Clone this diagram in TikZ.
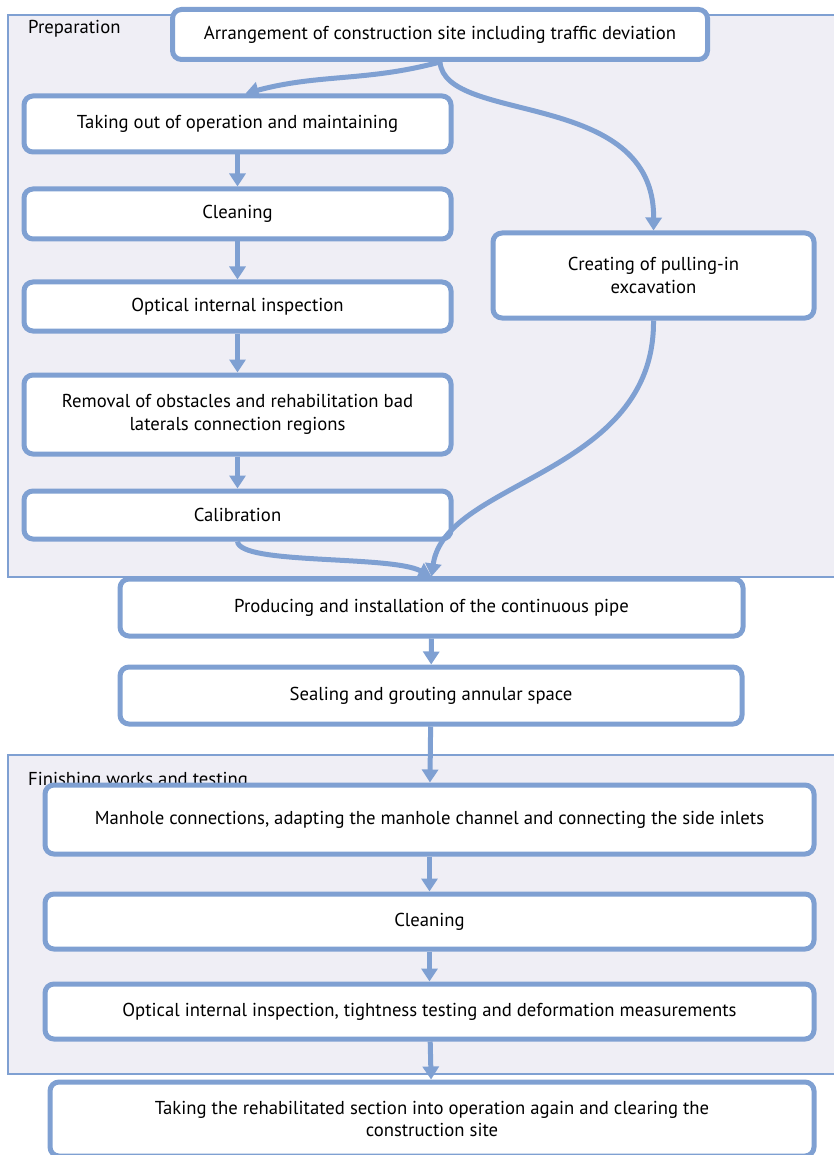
\documentclass[tikz,border=0pt]{standalone}
\usepackage{fontspec}
\setmainfont{PT Sans}
\usetikzlibrary{arrows.meta, positioning}
\definecolor{flowblue}{RGB}{127,160,210}
\definecolor{groupbg}{RGB}{239,238,245}

\begin{document}
\begin{tikzpicture}[x=1pt, y=-1pt, font=\fontsize{18.7}{22.5}\selectfont]
    \tikzstyle{stage} = [rectangle, rounded corners=9pt, draw=flowblue, line width=5pt, fill=white, align=center, inner sep=0pt]
    \tikzstyle{group} = [draw=flowblue, line width=2.5pt, fill=groupbg]
    \tikzstyle{flow} = [draw=flowblue, line width=5pt, -{Triangle[length=13pt, width=16pt]}]
    \useasboundingbox (0,0) rectangle (834,1155);
    % phase boxes
    \draw[group] (8,15) rectangle (845,577);
    \node[anchor=north west, inner sep=0pt] (prep) at (28,20) {Preparation};
    \draw[group] (8,755) rectangle (845,1074);
    \node[anchor=north west, inner sep=0pt] (finish) at (28,772) {Finishing works and testing};
    % steps
    \node[stage, minimum width=535pt, minimum height=50pt] (arrange) at (440,34.5) {Arrangement of construction site including traffic deviation};
    \node[stage, minimum width=427pt, minimum height=56pt] (takeout) at (237.5,124) {Taking out of operation and maintaining};
    \node[stage, minimum width=427pt, minimum height=50pt] (clean1) at (237.5,214) {Cleaning};
    \node[stage, minimum width=427pt, minimum height=49pt] (inspect1) at (237.5,306.5) {Optical internal inspection};
    \node[stage, minimum width=427pt, minimum height=79pt] (removal) at (237.5,414.5) {Removal of obstacles and rehabilitation bad\\laterals connection regions};
    \node[stage, minimum width=427pt, minimum height=48pt] (calib) at (237.5,515) {Calibration};
    \node[stage, minimum width=321pt, minimum height=85pt] (excav) at (653.5,275.5) {Creating of pulling-in\\excavation};
    \node[stage, minimum width=623pt, minimum height=57pt] (produce) at (431.5,607.5) {Producing and installation of the continuous pipe};
    \node[stage, minimum width=622pt, minimum height=57pt] (seal) at (431,695.5) {Sealing and grouting annular space};
    \node[stage, minimum width=769pt, minimum height=69pt] (manhole) at (429.5,819.5) {Manhole connections, adapting the manhole channel and connecting the side inlets};
    \node[stage, minimum width=769pt, minimum height=55pt] (clean2) at (429.5,921.5) {Cleaning};
    \node[stage, minimum width=769pt, minimum height=55pt] (inspect2) at (429.5,1011.5) {Optical internal inspection, tightness testing and deformation measurements};
    \node[stage, minimum width=764pt, minimum height=74pt] (reopen) at (432,1119) {Taking the rehabilitated section into operation again and clearing the\\construction site};
    % connections
    \draw[flow] (arrange.south) to[out=195, in=15] ([xshift=8pt]takeout.north);
    \draw[flow] (arrange.south) .. controls (445,125) and (655,88) .. (excav.north);
    \draw[flow] (takeout) -- (clean1);
    \draw[flow] (clean1) -- (inspect1);
    \draw[flow] (inspect1) -- (removal);
    \draw[flow] (removal) -- (calib);
    \draw[flow] (calib.south) .. controls (240,565) and (390,555) .. (produce.north);
    \draw[flow] (excav.south) .. controls (655,475) and (445,480) .. (produce.north);
    \draw[flow] (produce) -- (seal);
    \draw[flow] (seal) -- (manhole);
    \draw[flow] (manhole) -- (clean2);
    \draw[flow] (clean2) -- (inspect2);
    \draw[flow] (inspect2) -- (reopen);
\end{tikzpicture}
\end{document}
